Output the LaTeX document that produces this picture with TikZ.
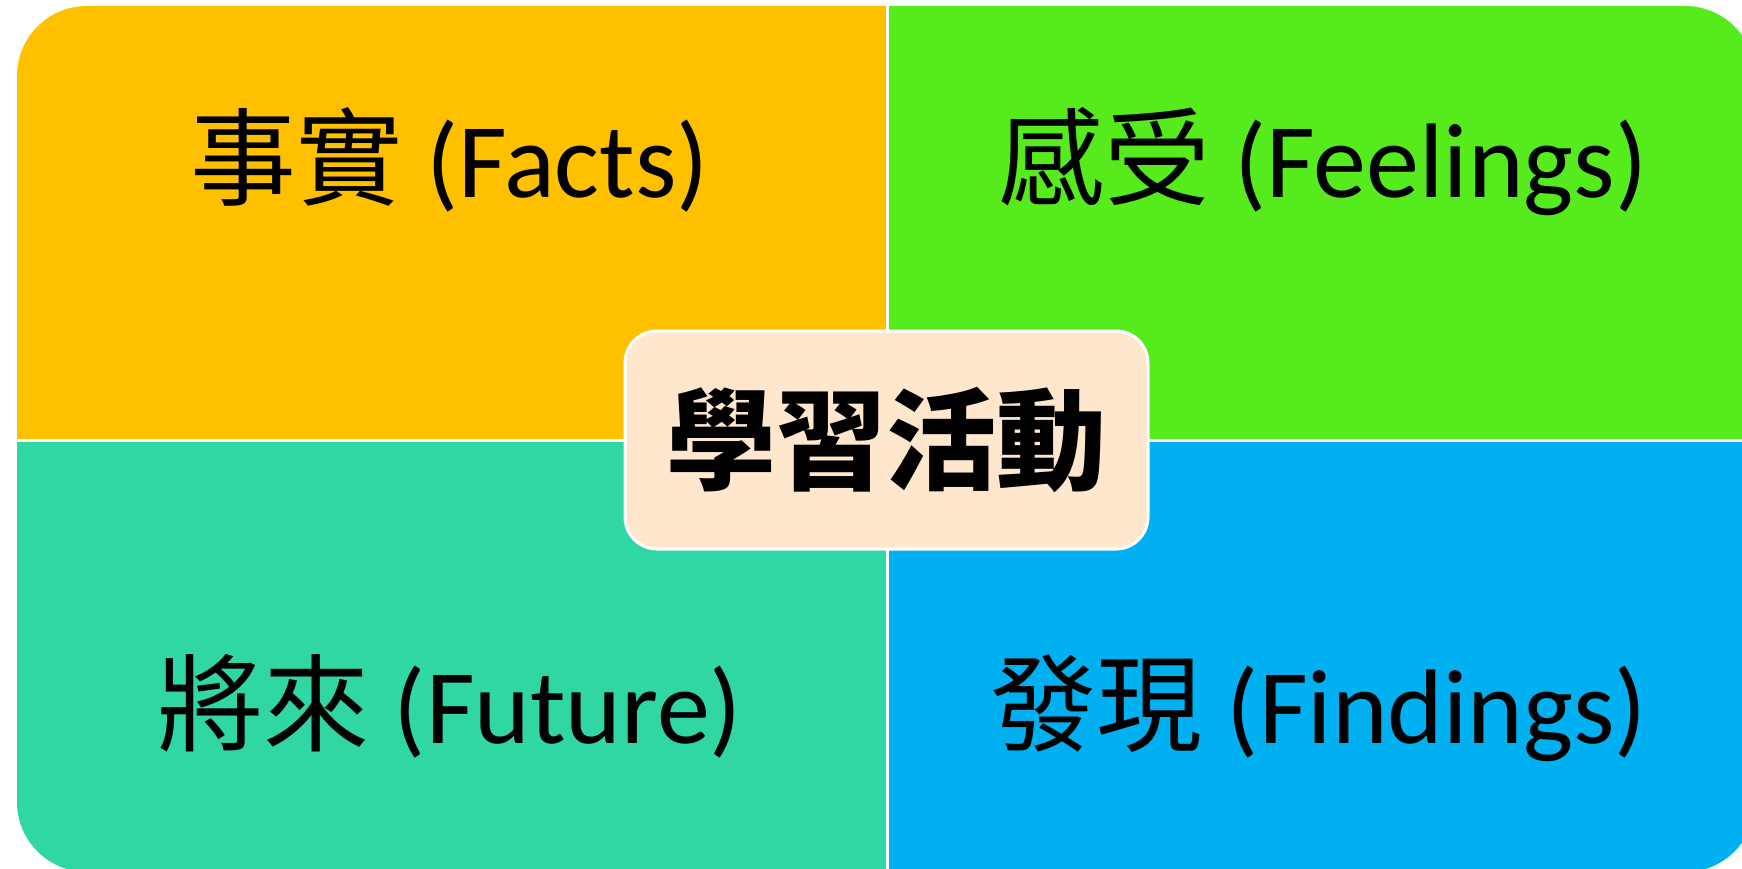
\documentclass[tikz,border=0pt]{standalone}
\usepackage{fontspec}
\setmainfont{Carlito}
\newfontfamily\cjk{Noto Sans CJK TC}
\definecolor{qorange}{HTML}{FFC000}
\definecolor{qgreen}{HTML}{56EB1C}
\definecolor{qteal}{HTML}{30D7A5}
\definecolor{qblue}{HTML}{00B0F0}
\definecolor{qcenter}{HTML}{FFE7CE}
\tikzset{
  lbl/.style={inner sep=0pt, anchor=base, text=black, font=\fontsize{106}{126}\selectfont},
  divider/.style={draw=white, line width=3pt},
  centerbox/.style={fill=qcenter, draw=white, line width=3pt, rounded corners=32pt}
}
\begin{document}
\begin{tikzpicture}[x=1pt,y=-1pt]
\useasboundingbox (0,0) rectangle (1742,869);
\clip (0,0) rectangle (1742,869);
\begin{scope}
  \clip[rounded corners=70pt] (17,6) rectangle (1755,872);
  \fill[qorange] (0,0) rectangle (887,440);
  \fill[qgreen] (887,0) rectangle (1760,440);
  \fill[qteal] (0,440) rectangle (887,880);
  \fill[qblue] (887,440) rectangle (1760,880);
  \coordinate (vtop) at (887,0);
  \coordinate (vbot) at (887,880);
  \coordinate (hleft) at (0,440);
  \coordinate (hright) at (1760,440);
  \draw[divider] (vtop) -- (vbot);
  \draw[divider] (hleft) -- (hright);
\end{scope}
\draw[centerbox] (625,331) rectangle (1148,549);
\node[inner sep=0pt, font=\fontsize{110}{130}\selectfont\cjk\bfseries] (center) at (886.5,440) {學習活動};
\node[lbl] (facts) at (449.5,198) {{\cjk 事實} (Facts)};
\node[lbl] (feelings) at (1323,198) {{\cjk 感受} (Feelings)};
\node[lbl] (future) at (450,743) {{\cjk 將來} (Future)};
\node[lbl] (findings) at (1319,743) {{\cjk 發現} (Findings)};
\end{tikzpicture}
\end{document}
